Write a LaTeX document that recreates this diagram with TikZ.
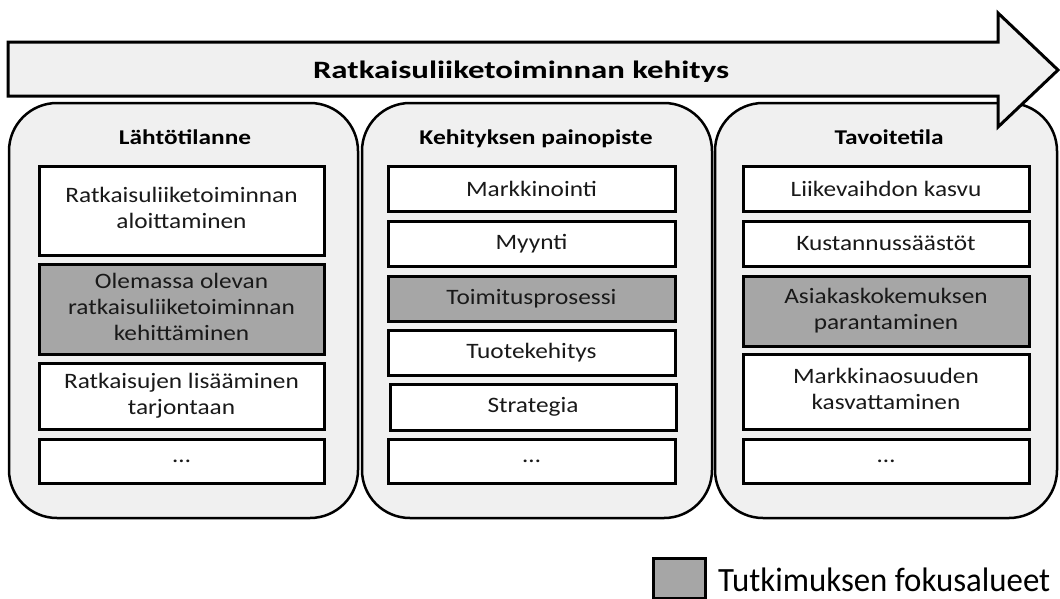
\documentclass[tikz,border=0pt]{standalone}
\usepackage{fontspec}
\setmainfont{Carlito}
\definecolor{panelgray}{HTML}{F0F0F0}
\definecolor{focusgray}{HTML}{A6A6A6}
\tikzset{
  panel/.style={draw=black, line width=2.5pt, fill=panelgray, rounded corners=48pt, inner sep=0pt},
  itembox/.style={draw=black, line width=3pt, fill=white, inner sep=0pt, align=center,
    font=\fontsize{22}{26}\selectfont, text=black!90},
  focus/.style={itembox, fill=focusgray},
  header/.style={font=\fontsize{21}{24}\selectfont\bfseries, anchor=base, inner sep=0pt},
}
\newcommand{\sx}[1]{\scalebox{1.15}[1]{#1}}
\newcommand{\fw}[2]{\resizebox{#1}{\height}{#2}}
\newcommand{\ml}[1]{\begin{tabular}{@{}c@{}}#1\end{tabular}}
\begin{document}
\begin{tikzpicture}[x=1pt,y=-1pt]
\useasboundingbox (0,0) rectangle (1060,598);
% panels
\node[panel, minimum width=349pt, minimum height=415pt] (p1) at (183.5,310.5) {};
\node[panel, minimum width=350pt, minimum height=415pt] (p2) at (537,310.5) {};
\node[panel, minimum width=342pt, minimum height=415pt] (p3) at (886,310.5) {};
% arrow
\draw[line width=3pt, fill=panelgray, line join=miter]
  (8,42) -- (998,42) -- (998,13) -- (1058,70) -- (998,127) -- (998,96) -- (8,96) -- cycle;
\node[font=\fontsize{25}{28}\selectfont\bfseries, anchor=base, inner sep=0pt] (title) at (521,78) {\fw{416pt}{Ratkaisuliiketoiminnan kehitys}};
% headers
\node[header] (h1) at (185,144) {\fw{132pt}{Lähtötilanne}};
\node[header] (h2) at (536,144) {\fw{233pt}{Kehityksen painopiste}};
\node[header] (h3) at (889,144) {\fw{109pt}{Tavoitetila}};
% panel 1
\node[itembox, minimum width=285pt, minimum height=89pt] (b11) at (181.5,210.5) {\sx{\ml{Ratkaisuliiketoiminnan\\aloittaminen}}};
\node[focus, minimum width=285pt, minimum height=90pt] (b12) at (181.5,309) {\sx{\ml{Olemassa olevan\\ratkaisuliiketoiminnan\\kehittäminen}}};
\node[itembox, minimum width=285pt, minimum height=66pt] (b13) at (181.5,396) {\sx{\ml{Ratkaisujen lisääminen\\tarjontaan}}};
\node[itembox, minimum width=285pt, minimum height=44pt] (b14) at (181.5,461) {\sx{…}};
% panel 2
\node[itembox, minimum width=287pt, minimum height=45pt] (b21) at (531.5,188.5) {\sx{Markkinointi}};
\node[itembox, minimum width=287pt, minimum height=45pt] (b22) at (531.5,243.5) {\sx{Myynti}};
\node[focus, minimum width=287pt, minimum height=45pt] (b23) at (531.5,298.5) {\sx{Toimitusprosessi}};
\node[itembox, minimum width=287pt, minimum height=45pt] (b24) at (531.5,352.5) {\sx{Tuotekehitys}};
\node[itembox, minimum width=286pt, minimum height=46pt] (b25) at (533,407) {\sx{Strategia}};
\node[itembox, minimum width=287pt, minimum height=44pt] (b26) at (531.5,461) {\sx{…}};
% panel 3
\node[itembox, minimum width=286pt, minimum height=45pt] (b31) at (886,188.5) {\sx{Liikevaihdon kasvu}};
\node[itembox, minimum width=286pt, minimum height=45pt] (b32) at (886,243.5) {\sx{Kustannussäästöt}};
\node[focus, minimum width=286pt, minimum height=70pt] (b33) at (886,311) {\sx{\ml{Asiakaskokemuksen\\parantaminen}}};
\node[itembox, minimum width=286pt, minimum height=75pt] (b34) at (886,391.5) {\sx{\ml{Markkinaosuuden\\kasvattaminen}}};
\node[itembox, minimum width=286pt, minimum height=44pt] (b35) at (886,461) {\sx{…}};
% legend
\node[draw=black, line width=3pt, fill=focusgray, minimum width=52pt, minimum height=40pt, inner sep=0pt] (leg) at (679,578.5) {};
\node[anchor=base west, font=\fontsize{34}{40}\selectfont, inner sep=0pt] (legt) at (718,591) {\fw{332pt}{Tutkimuksen fokusalueet}};
\end{tikzpicture}
\end{document}
